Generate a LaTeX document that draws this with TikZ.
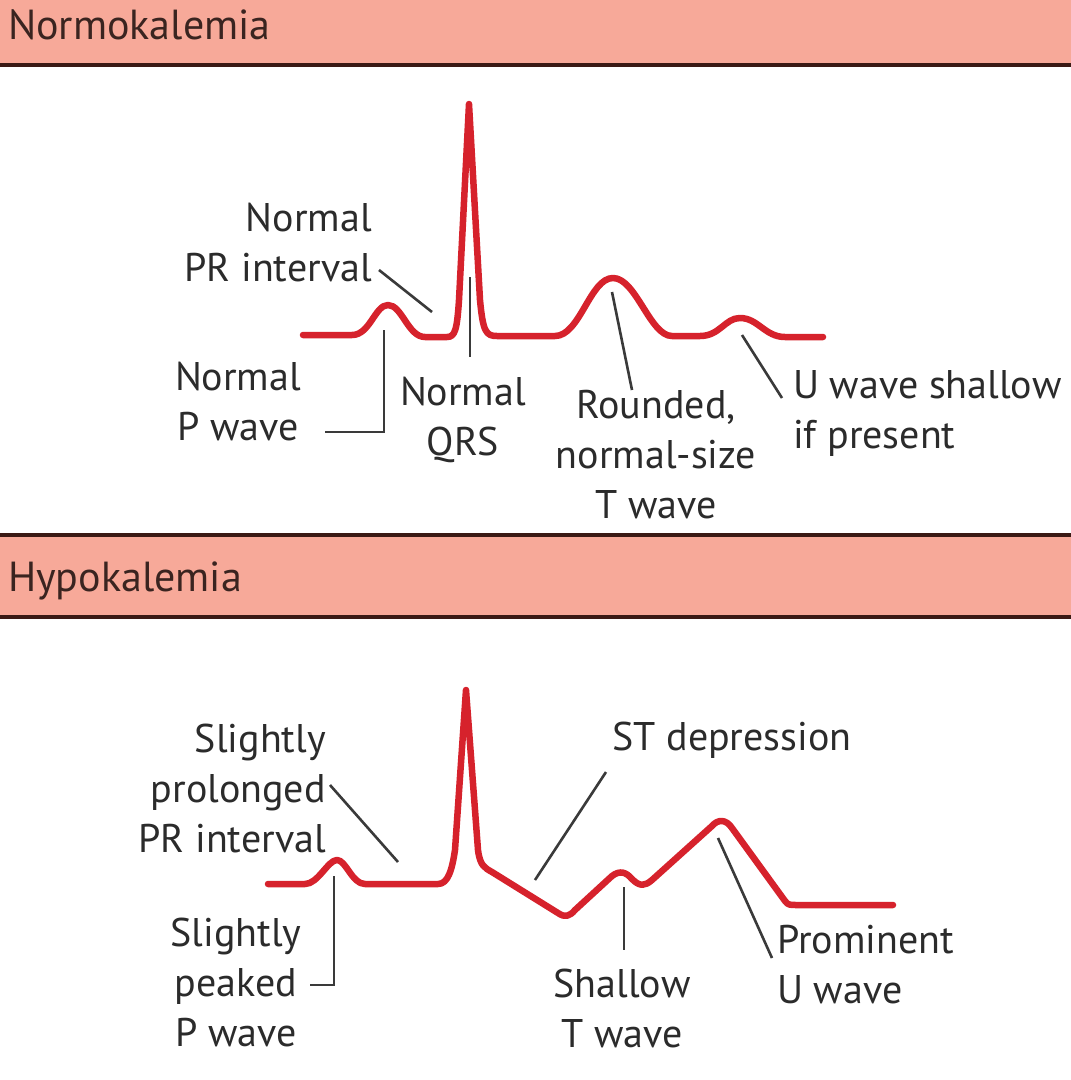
\documentclass[tikz,border=0pt]{standalone}
\usepackage{fontspec}
\setmainfont{PT Sans}
\begin{document}
\begin{tikzpicture}[x=1pt,y=-1pt,
  lbl/.style={font=\fontsize{40}{50}\selectfont, text=txt, inner sep=0pt},
  hdr/.style={font=\fontsize{42}{50}\selectfont, text=hdrtxt, inner sep=0pt, anchor=base west},
  ecg/.style={draw=ecgred, line width=6.5pt, line join=round, line cap=round},
  ptr/.style={draw=ptrgray, line width=2.6pt},
  rule/.style={draw=ruledark, line width=4pt}]
\definecolor{ecgred}{HTML}{D6222C}
\definecolor{ptrgray}{HTML}{3A3A3A}
\definecolor{txt}{HTML}{2B2B2B}
\definecolor{hdrtxt}{HTML}{3A2420}
\definecolor{band}{HTML}{F7A999}
\definecolor{ruledark}{HTML}{3B1A15}
\useasboundingbox (0,0) rectangle (1071,1080);
\fill[white] (0,0) rectangle (1071,1080);
% header bands
\fill[band] (0,0) rectangle (1071,63);
\draw[rule] (0,65) -- (1071,65);
\draw[rule] (0,535) -- (1071,535);
\fill[band] (0,537) rectangle (1071,615);
\draw[rule] (0,617) -- (1071,617);
\node[hdr] (h1) at (8,39) {Normokalemia};
\node[hdr] (h2) at (8,591) {Hypokalemia};

% ---------- Normokalemia ECG ----------
\draw[ecg] (303,335) -- (352,335)
  .. controls (370,335) and (375,305) .. (388,305)
  .. controls (402,305) and (408,337) .. (425,337) -- (447,337)
  .. controls (455,337) and (457,330) .. (459,300) -- (469,104) -- (480,300)
  .. controls (483,332) and (486,336) .. (497,336) -- (555,336)
  .. controls (580,336) and (590,278) .. (613,278)
  .. controls (636,278) and (650,336) .. (672,336) -- (700,336)
  .. controls (720,336) and (725,318) .. (740,318)
  .. controls (758,318) and (765,337) .. (785,337) -- (823,337);

% labels
\node[lbl, align=right, anchor=east] (npr) at (372,243) {Normal\\PR interval};
\node[lbl, align=center] (np) at (238,402) {Normal\\P wave};
\node[lbl, align=center] (nqrs) at (463,420) {Normal\\QRS};
\node[lbl, align=center] (nt) at (656,455) {Rounded,\\normal-size\\T wave};
\node[lbl, align=left, anchor=west] (nu) at (793,413) {U wave shallow\\if present};

\coordinate (nprA) at (379,270); \coordinate (nprB) at (432,312);
\coordinate (npA) at (384,330); \coordinate (npC) at (384,432); \coordinate (npB) at (325,432);
\coordinate (nqA) at (470,277); \coordinate (nqB) at (470,357);
\coordinate (ntA) at (612,292); \coordinate (ntB) at (632,390);
\coordinate (nuA) at (742,335); \coordinate (nuB) at (782,398);
\draw[ptr] (nprA) -- (nprB);
\draw[ptr] (npA) -- (npC) -- (npB);
\draw[ptr] (nqA) -- (nqB);
\draw[ptr] (ntA) -- (ntB);
\draw[ptr] (nuA) -- (nuB);

% ---------- Hypokalemia ECG ----------
\draw[ecg] (268,884) -- (305,884)
  .. controls (318,884) and (328,860) .. (337,860)
  .. controls (346,860) and (352,884) .. (365,884) -- (438,884)
  .. controls (448,884) and (452,870) .. (455,850) -- (466,690) -- (478,850)
  .. controls (480,866) and (485,868) .. (492,872) -- (558,913)
  .. controls (565,918) and (570,916) .. (575,910) -- (612,876)
  .. controls (620,870) and (626,872) .. (632,879)
  .. controls (640,887) and (645,886) .. (652,880) -- (712,826)
  .. controls (718,819) and (726,819) .. (732,828) -- (785,901)
  .. controls (788,905) and (790,905) .. (796,905) -- (893,905);

\node[lbl, align=right, anchor=east] (hpr) at (326,788) {Slightly\\prolonged\\PR interval};
\node[lbl] (hst) at (732,740) {ST depression};
\node[lbl, align=center] (hp) at (236,982) {Slightly\\peaked\\P wave};
\node[lbl, align=center] (ht) at (622,1008) {Shallow\\T wave};
\node[lbl, align=left, anchor=west] (hu) at (777,965) {Prominent\\U wave};

\coordinate (hprA) at (330,785); \coordinate (hprB) at (398,862);
\coordinate (hstA) at (606,772); \coordinate (hstB) at (535,880);
\coordinate (hpA) at (334,876); \coordinate (hpC) at (334,985); \coordinate (hpB) at (310,985);
\coordinate (htA) at (624,887); \coordinate (htB) at (624,950);
\coordinate (huA) at (718,838); \coordinate (huB) at (772,958);
\draw[ptr] (hprA) -- (hprB);
\draw[ptr] (hstA) -- (hstB);
\draw[ptr] (hpA) -- (hpC) -- (hpB);
\draw[ptr] (htA) -- (htB);
\draw[ptr] (huA) -- (huB);
\end{tikzpicture}
\end{document}
